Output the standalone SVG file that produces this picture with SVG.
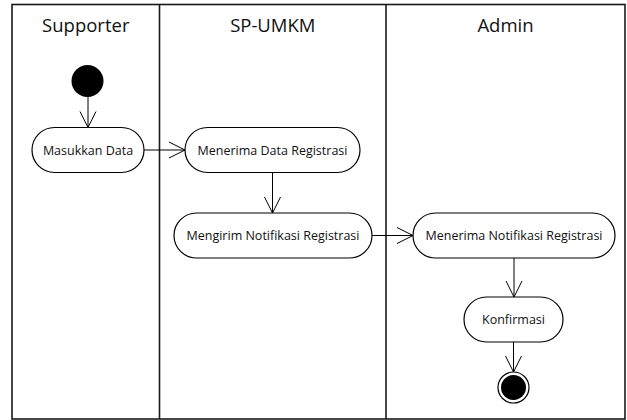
<svg xmlns="http://www.w3.org/2000/svg" width="627" height="420" viewBox="0 0 627 420">
<style>
.lane{fill:none;stroke:#1a1a1a;stroke-width:1.6}
.hdr{font-family:"Open Sans","Noto Sans",sans-serif;font-size:18.5px;fill:#111;text-anchor:middle}
.act{fill:#fff;stroke:#000;stroke-width:1.2}
.lbl{font-family:"Open Sans","Noto Sans",sans-serif;font-size:12.5px;fill:#111;text-anchor:middle}
.con{fill:none;stroke:#000;stroke-width:1}
</style>
<defs>
<marker id="arr" markerUnits="userSpaceOnUse" markerWidth="20" markerHeight="20" viewBox="-17 -10 19 20" refX="0" refY="0" orient="auto">
<path d="M-16,-8 L0,0 L-16,8" fill="none" stroke="#000" stroke-width="1"/>
</marker>
</defs>
<rect width="627" height="420" fill="#fff"/>
<g id="lanes">
<rect class="lane" x="12" y="4.5" width="613" height="414.5"/>
<line class="lane" x1="159.5" y1="4.5" x2="159.5" y2="419"/>
<line class="lane" x1="386" y1="4.5" x2="386" y2="419"/>
<text class="hdr" x="85.8" y="31.7">Supporter</text>
<text class="hdr" x="272.8" y="31.7">SP-UMKM</text>
<text class="hdr" x="505.5" y="31.7">Admin</text>
</g>
<g id="start"><circle cx="87.5" cy="81" r="16" fill="#000"/></g>
<g id="masukkan-data">
<rect class="act" x="32" y="127.5" width="112" height="45" rx="22.5"/>
<text class="lbl" x="88" y="154.5">Masukkan Data</text>
</g>
<g id="menerima-data">
<rect class="act" x="185" y="127.5" width="175" height="45" rx="22.5"/>
<text class="lbl" x="272.5" y="154.5">Menerima Data Registrasi</text>
</g>
<g id="mengirim-notifikasi">
<rect class="act" x="174" y="213" width="198" height="45" rx="22.5"/>
<text class="lbl" x="273" y="240">Mengirim Notifikasi Registrasi</text>
</g>
<g id="menerima-notifikasi">
<rect class="act" x="413" y="213" width="202" height="45" rx="22.5"/>
<text class="lbl" x="514" y="240">Menerima Notifikasi Registrasi</text>
</g>
<g id="konfirmasi">
<rect class="act" x="464" y="297" width="99" height="45" rx="22.5"/>
<text class="lbl" x="513.5" y="324">Konfirmasi</text>
</g>
<g id="end">
<circle cx="513.5" cy="387.5" r="15.5" fill="#fff" stroke="#000" stroke-width="1.2"/>
<circle cx="513.5" cy="387.5" r="12.5" fill="#000"/>
</g>
<g id="connectors">
<line class="con" x1="88" y1="97" x2="88" y2="127.5" marker-end="url(#arr)"/>
<line class="con" x1="144" y1="150" x2="185" y2="150" marker-end="url(#arr)"/>
<line class="con" x1="272.5" y1="172.5" x2="272.5" y2="213" marker-end="url(#arr)"/>
<line class="con" x1="372" y1="235.5" x2="413" y2="235.5" marker-end="url(#arr)"/>
<line class="con" x1="514" y1="258" x2="514" y2="297" marker-end="url(#arr)"/>
<line class="con" x1="513.5" y1="342" x2="513.5" y2="372" marker-end="url(#arr)"/>
</g>
</svg>
